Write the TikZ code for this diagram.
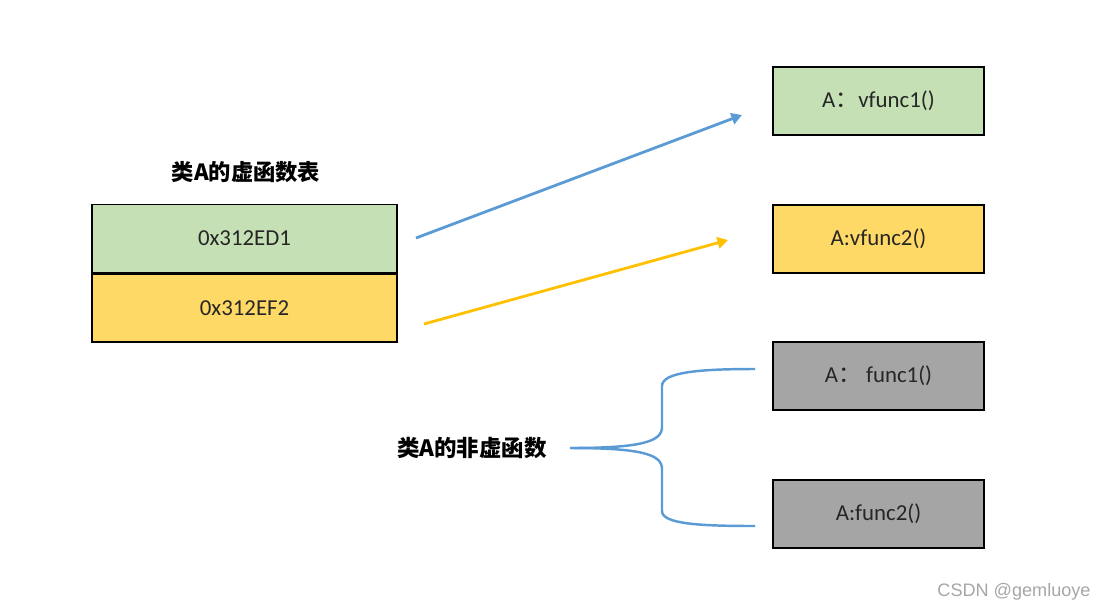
\documentclass[tikz,border=0pt]{standalone}
\usepackage{fontspec}
\setmainfont{Carlito}
\newfontfamily\cjk{Noto Sans CJK SC}
\newfontfamily\wmfont{Liberation Sans}
\usetikzlibrary{arrows.meta}
\definecolor{cellgreen}{HTML}{C5E0B4}
\definecolor{cellyellow}{HTML}{FFD966}
\definecolor{cellgray}{HTML}{A5A5A5}
\definecolor{lineblue}{HTML}{5B9BD5}
\definecolor{lineyellow}{HTML}{FFC000}

\begin{document}
\begin{tikzpicture}[x=0.02cm,y=-0.02cm,
  cell/.style={draw=black,line width=1.1pt,minimum width=6.1cm,minimum height=1.36cm,
    font=\fontsize{13}{15}\selectfont,text=black!85},
  fbox/.style={cell,minimum width=4.22cm},
  ptr/.style={line width=1.6pt,-{Triangle[length=6pt,width=6.5pt]}},
  brace/.style={draw=lineblue,line width=1.4pt},
  title/.style={font=\cjk\bfseries\fontsize{12.7}{15}\selectfont}]
\useasboundingbox (0,0) rectangle (1098,609);
% virtual table of class A
\node[title] (vtitle) at (246,172) {类A的虚函数表};
\node[cell,fill=cellgreen] (ed1) at (244.5,238.5) {0x312ED1};
\node[cell,fill=cellyellow,anchor=north] (ef2) at (ed1.south) {0x312EF2};
% functions
\node[fbox,fill=cellgreen] (vf1) at (878.5,101) {A{\cjk ：}vfunc1()};
\node[fbox,fill=cellyellow] (vf2) at (878.5,239) {A:vfunc2()};
\node[fbox,fill=cellgray] (f1) at (878.5,376) {A{\cjk ：} func1()};
\node[fbox,fill=cellgray] (f2) at (878.5,514) {A:func2()};
\node[title,font=\cjk\bfseries\fontsize{12.8}{15}\selectfont] (nv) at (472,448) {类A的非虚函数};
% pointers
\coordinate (s1) at (416,238); \coordinate (e1) at (742,115);
\coordinate (s2) at (424,324); \coordinate (e2) at (728,240);
\draw[ptr,lineblue] (s1) -- (e1);
\draw[ptr,lineyellow] (s2) -- (e2);
% brace
\coordinate (b0) at (570,448); \coordinate (bt) at (755,369); \coordinate (bb) at (755,526);
\draw[brace] (b0) .. controls (640,448) and (662,442) .. (662,427) -- (662,386)
  .. controls (662,372) and (700,369) .. (bt);
\draw[brace] (b0) .. controls (640,448) and (662,454) .. (662,469) -- (662,511)
  .. controls (662,524) and (700,526) .. (bb);
\node[font=\wmfont\fontsize{10.3}{12}\selectfont,text=black!35] (wm) at (1014,592) {CSDN @gemluoye};
\end{tikzpicture}
\end{document}
